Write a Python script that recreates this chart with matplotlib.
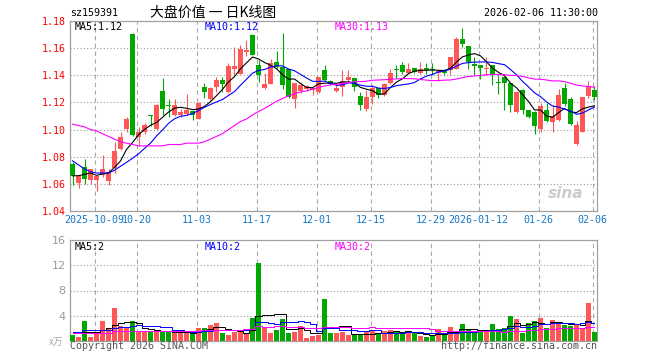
import pandas as pd
import matplotlib
matplotlib.use("Agg")
import matplotlib.pyplot as plt

# daily candles 2025-09-25 .. 2026-02-06, 88 sessions
opens = [1.075, 1.0605, 1.0725, 1.0625, 1.0625, 1.0667, 1.062, 1.0717, 1.0857, 1.1005,
         1.1706, 1.0945, 1.098, 1.1105, 1.1005, 1.1281, 1.118, 1.1104, 1.1104, 1.1116,
         1.114, 1.108, 1.1313, 1.1227, 1.1313, 1.1363, 1.1276, 1.145, 1.1412, 1.1575,
         1.1696, 1.1474, 1.1306, 1.1338, 1.150, 1.146, 1.1446, 1.1225, 1.1286, 1.1296,
         1.129, 1.128, 1.1439, 1.1358, 1.1286, 1.1316, 1.1365, 1.1377, 1.1247, 1.1149,
         1.1242, 1.1309, 1.1255, 1.134, 1.1448, 1.1476, 1.1419, 1.1451, 1.1419, 1.1455,
         1.1442, 1.1418, 1.1437, 1.1437, 1.145, 1.1667, 1.1615, 1.1485, 1.1474, 1.1445,
         1.1474, 1.1345, 1.1385, 1.1343, 1.113, 1.1294, 1.1145, 1.113, 1.1005, 1.1145,
         1.1057, 1.1067, 1.1306, 1.1222, 1.0894, 1.0985, 1.1244, 1.1294]
highs = [1.076, 1.066, 1.078, 1.071, 1.066, 1.0815, 1.071, 1.091, 1.098, 1.109,
         1.171, 1.102, 1.105, 1.111, 1.1185, 1.138, 1.1225, 1.1225, 1.115, 1.126,
         1.1145, 1.1205, 1.134, 1.1315, 1.1385, 1.1385, 1.149, 1.161, 1.162, 1.166,
         1.1705, 1.151, 1.142, 1.152, 1.158, 1.171, 1.145, 1.134, 1.135, 1.1325,
         1.131, 1.1388, 1.1476, 1.1362, 1.1325, 1.144, 1.144, 1.1378, 1.1275, 1.1295,
         1.1325, 1.131, 1.134, 1.1444, 1.1475, 1.150, 1.149, 1.1455, 1.150, 1.1492,
         1.149, 1.144, 1.1445, 1.1537, 1.1685, 1.175, 1.1617, 1.1535, 1.1475, 1.1535,
         1.1475, 1.140, 1.139, 1.1345, 1.1283, 1.1296, 1.1147, 1.1135, 1.1198, 1.1198,
         1.1178, 1.1296, 1.1343, 1.124, 1.1064, 1.1242, 1.1355, 1.1318]
lows = [1.059, 1.057, 1.060, 1.060, 1.055, 1.065, 1.059, 1.068, 1.085, 1.098,
        1.095, 1.088, 1.097, 1.1025, 1.0995, 1.1105, 1.1095, 1.110, 1.109, 1.111,
        1.107, 1.1075, 1.1235, 1.122, 1.128, 1.128, 1.127, 1.1405, 1.141, 1.154,
        1.155, 1.135, 1.130, 1.1335, 1.1455, 1.130, 1.123, 1.116, 1.127, 1.1285,
        1.1255, 1.1268, 1.136, 1.133, 1.128, 1.125, 1.136, 1.1285, 1.1144, 1.1135,
        1.119, 1.1235, 1.1245, 1.1335, 1.138, 1.141, 1.141, 1.1415, 1.141, 1.141,
        1.1405, 1.136, 1.140, 1.140, 1.145, 1.1605, 1.1445, 1.140, 1.1375, 1.140,
        1.1325, 1.1265, 1.1145, 1.1133, 1.1125, 1.1112, 1.1085, 1.097, 1.0985, 1.1055,
        1.0985, 1.1065, 1.1175, 1.1035, 1.0887, 1.098, 1.1235, 1.1215]
closes = [1.066, 1.0655, 1.0635, 1.071, 1.0655, 1.071, 1.069, 1.084, 1.0948, 1.1079,
          1.0963, 1.098, 1.1035, 1.110, 1.1183, 1.1153, 1.1175, 1.1178, 1.1133, 1.1146,
          1.1104, 1.1195, 1.1276, 1.1306, 1.1368, 1.1338, 1.1469, 1.1469, 1.1597, 1.1585,
          1.1553, 1.140, 1.1338, 1.1494, 1.146, 1.1326, 1.1242, 1.134, 1.1328, 1.132,
          1.131, 1.1385, 1.1365, 1.1336, 1.1309, 1.1358, 1.139, 1.1316, 1.1181, 1.1242,
          1.1304, 1.1255, 1.1336, 1.1414, 1.1440, 1.1427, 1.1446, 1.1425, 1.1446, 1.1442,
          1.1438, 1.1432, 1.1415, 1.1536, 1.167, 1.1627, 1.150, 1.1465, 1.1455, 1.1448,
          1.140, 1.134, 1.134, 1.118, 1.128, 1.1147, 1.109, 1.103, 1.1173, 1.106,
          1.110, 1.1257, 1.119, 1.1043, 1.1035, 1.124, 1.132, 1.124]
volumes = [1.0, 0.7, 3.1, 0.65, 1.45, 3.1, 2.1, 5.2, 2.3, 2.0,
           3.1, 1.6, 1.6, 1.45, 1.35, 1.6, 1.6, 1.2, 1.2, 1.2,
           1.3, 2.1, 2.1, 2.5, 2.8, 1.3, 1.0, 1.4, 1.4, 1.3,
           3.7, 12.3, 2.2, 1.2, 1.8, 3.5, 1.2, 1.45, 2.3, 0.55,
           0.8, 0.95, 6.7, 1.3, 1.2, 1.45, 0.95, 0.95, 0.95, 1.35,
           1.6, 1.25, 1.55, 1.75, 1.55, 1.35, 1.35, 1.25, 0.8, 0.65,
           0.95, 1.85, 1.05, 2.25, 1.35, 2.7, 1.85, 1.45, 1.45, 1.55,
           2.7, 1.85, 2.1, 4.0, 3.5, 1.2, 2.9, 3.2, 3.7, 2.1,
           3.4, 2.7, 2.6, 2.45, 2.6, 2.1, 6.0, 1.45]

# MA values for the first sessions (their earlier data is off the chart)
ma5_head = [1.066, 1.066, 1.067, 1.068]
ma10_head = [1.077, 1.074, 1.071, 1.069, 1.068, 1.068, 1.068, 1.070, 1.073]
ma30_head = [1.104, 1.103, 1.102, 1.100, 1.099, 1.097, 1.095, 1.093, 1.091, 1.090,
             1.089, 1.088, 1.088, 1.088, 1.088, 1.088, 1.089, 1.089, 1.089, 1.090,
             1.090, 1.090, 1.091, 1.093, 1.095, 1.097, 1.100, 1.103, 1.106]
vol_ma5_head = [1.3, 1.3, 1.4, 1.4]
vol_ma10_head = [1.45, 1.5, 1.7, 1.7, 1.7, 1.75, 1.8, 2.1, 2.2]
vol_ma30_head = [1.25, 1.25, 1.25, 1.25, 1.3, 1.3, 1.3, 1.65, 1.65, 1.65,
                 1.65, 1.65, 1.65, 1.65, 1.65, 1.65, 1.65, 1.65, 1.65, 1.65,
                 1.65, 1.65, 1.7, 1.7, 1.7, 1.7, 1.7, 1.7, 1.7]

date_labels = ["2025-10-09", "10-20", "11-03", "11-17", "12-01", "12-15",
               "12-29", "2026-01-12", "01-26", "02-06"]
date_index = [4, 11, 21, 31, 41, 50, 60, 68, 78, 87]
price_ticks = [1.04, 1.06, 1.08, 1.10, 1.12, 1.14, 1.16, 1.18]
vol_ticks = [4, 8, 12, 16]
ma_labels = ["MA5:1.12", "MA10:1.12", "MA30:1.13"]
vol_ma_labels = ["MA5:2", "MA10:2", "MA30:2"]

RED = "#ff5757"
GREEN = "#00a800"
MA_COLORS = ["black", "#0000ff", "#ff00ff"]
MONO = "DejaVu Sans Mono"
CJK = ["Noto Sans CJK SC", "DejaVu Sans"]


def moving(values, n, head):
    s = pd.Series(values).rolling(n).mean()
    s.iloc[:len(head)] = head
    return s


def px(x, y):
    return x / 660, 1 - y / 360


def style_frame(ax):
    for sp in ax.spines.values():
        sp.set_color("#a0a0a0")
        sp.set_linewidth(0.9)
    ax.xaxis.grid(True, color="#aaaaaa", linestyle=(0, (4, 3)), linewidth=0.8)
    ax.yaxis.grid(True, color="#999999", linestyle=(0, (1, 2)), linewidth=0.8)
    ax.set_axisbelow(True)


def main():
    n = len(closes)
    xs = list(range(n))
    colors = [RED if c > o else GREEN for o, c in zip(opens, closes)]
    grid_x = [i - 0.3 for i in date_index]

    fig = plt.figure(figsize=(6.6, 3.6), dpi=100)
    ax = fig.add_axes([70 / 660, 1 - 211 / 360, 527 / 660, 190 / 360])
    vax = fig.add_axes([70 / 660, 1 - 341 / 360, 527 / 660, 101 / 360])
    xlim = (-2.5 / 6, 524.5 / 6)

    # price panel
    ax.vlines(xs, lows, highs, colors=colors, linewidth=0.8, zorder=2)
    bottoms = [min(o, c) for o, c in zip(opens, closes)]
    heights = [max(abs(c - o), 0.0007) for o, c in zip(opens, closes)]
    ax.bar(xs, heights, bottom=bottoms, width=0.8, color=colors, linewidth=0, zorder=3)
    for line, head, col in zip((5, 10, 30), (ma5_head, ma10_head, ma30_head), MA_COLORS):
        ax.plot(xs, moving(closes, line, head), color=col, linewidth=0.8, zorder=4)
    ax.set_xlim(*xlim)
    ax.set_ylim(1.04, 1.18)
    ax.set_yticks(price_ticks)
    ax.set_yticklabels(["%.2f" % t for t in price_ticks], family=MONO, fontsize=7.2, color="#ff0000")
    ax.set_xticks(grid_x)
    ax.set_xticklabels(date_labels, family=MONO, fontsize=7.2, color="#1478c8")
    ax.tick_params(length=0, pad=3)
    style_frame(ax)
    ax.text(0.975, 0.09, "sina", transform=ax.transAxes, ha="right", va="center",
            fontsize=11, style="italic", weight="bold", color="#cccccc", zorder=1)

    # volume panel
    vax.bar(xs, volumes, width=0.8, color=colors, linewidth=0, zorder=3)
    for line, head, col in zip((5, 10, 30), (vol_ma5_head, vol_ma10_head, vol_ma30_head), MA_COLORS):
        vax.plot(xs, moving(volumes, line, head), color=col, linewidth=0.7,
                 drawstyle="steps-mid", zorder=4)
    vax.set_xlim(*xlim)
    vax.set_ylim(0, 16)
    vax.set_yticks(vol_ticks)
    vax.set_yticklabels([str(t) for t in vol_ticks], fontsize=8, color="#999999")
    vax.set_xticks(grid_x)
    vax.set_xticklabels([])
    vax.tick_params(length=0, pad=3)
    style_frame(vax)

    # texts
    fig.text(*px(70, 13), "sz159391", family=MONO, fontsize=7.2, va="center")
    fig.text(*px(150, 13), "大盘价值 一 日K线图", family=CJK, fontsize=10, va="center")
    fig.text(*px(598, 13), "2026-02-06 11:30:00", family=MONO, fontsize=7.2, va="center", ha="right")
    for label, xp, col in zip(ma_labels, (75, 205, 335), MA_COLORS):
        fig.text(*px(xp, 27), label, family=MONO, fontsize=7.2, va="center", color=col)
    for label, xp, col in zip(vol_ma_labels, (75, 205, 335), MA_COLORS):
        fig.text(*px(xp, 247), label, family=MONO, fontsize=7.2, va="center", color=col)
    fig.text(*px(49, 342), "x万", family=CJK, fontsize=7, va="center", color="#aaaaaa")
    fig.text(*px(70, 346), "Copyright 2026 SINA.COM", family=MONO, fontsize=7.2, va="center", color="#555555")
    fig.text(*px(597, 346), "http://finance.sina.com.cn", family=MONO, fontsize=7.2,
             va="center", ha="right", color="#555555")

    fig.savefig("out.png", dpi=100)


if __name__ == "__main__":
    main()
